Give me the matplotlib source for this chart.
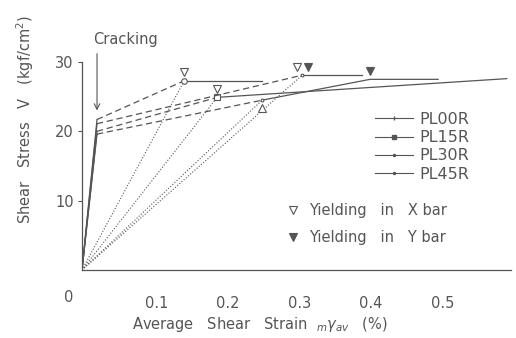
import matplotlib
matplotlib.use("Agg")
import matplotlib.pyplot as plt
from matplotlib.lines import Line2D
from matplotlib.transforms import offset_copy, ScaledTranslation

# specimens and key points
specimens = ["PL00R", "PL15R", "PL30R", "PL45R"]
crack_x = [0.021, 0.021, 0.021, 0.021]
crack_v = [21.7, 20.0, 19.6, 21.1]
yield_x = [0.143, 0.189, 0.252, 0.308]
yield_v = [27.3, 24.9, 24.5, 28.1]
# path after first yielding
post_x = [[0.143, 0.252], [0.189, 0.594], [0.252, 0.403, 0.498], [0.308, 0.392]]
post_v = [[27.3, 27.3], [24.9, 27.6], [24.5, 27.5, 27.5], [28.1, 28.1]]
# yielding in Y bar
ybar_x = [0.308, 0.403]
ybar_v = [28.1, 27.5]

x_ticks = [0.1, 0.2, 0.3, 0.4, 0.5]
x_ticklabels = ["0.1", "0.2", "0.3", "0.4", "0.5"]
y_ticks = [10, 20, 30]

col = "#555555"
markers = ["o", "s", ".", "."]

fig = plt.figure(figsize=(5.16, 3.38), dpi=100)
ax = fig.add_axes([82 / 516, 68 / 338, 429 / 516, 208 / 338])
ax.set_xlim(0, 0.6)
ax.set_ylim(0, 30)

for i, name in enumerate(specimens):
    # elastic part up to cracking
    ax.plot([0, crack_x[i]], [0, crack_v[i]], color=col, lw=0.9)
    # cracking -> yielding
    ax.plot([crack_x[i], yield_x[i]], [crack_v[i], yield_v[i]],
            color=col, lw=0.9, ls=(0, (5, 3)))
    # secant from origin
    ax.plot([0, yield_x[i]], [0, yield_v[i]], color=col, lw=0.8, ls=(0, (1, 1.6)))
    # after yielding
    ax.plot(post_x[i], post_v[i], color=col, lw=0.9)
    ax.plot(yield_x[i], yield_v[i], marker=markers[i], ms=4, mfc="white",
            mec=col, mew=0.8, ls="none")

# X bar yielding marks, shifted off the point
x_offsets = [(0, 6), (0, 6), (0, -6), (-4, 6)]
x_syms = ["v", "v", "^", "v"]
for i in range(len(yield_x)):
    dx, dy = x_offsets[i]
    tr = offset_copy(ax.transData, fig=fig, x=dx, y=dy, units="points")
    ax.plot(yield_x[i], yield_v[i], marker=x_syms[i], ms=6, mfc="white",
            mec=col, mew=0.8, transform=tr, ls="none", clip_on=False)

y_offsets = [(4, 6), (0, 6)]
for i in range(len(ybar_x)):
    dx, dy = y_offsets[i]
    tr = offset_copy(ax.transData, fig=fig, x=dx, y=dy, units="points")
    ax.plot(ybar_x[i], ybar_v[i], marker="v", ms=6, mfc=col, mec=col,
            mew=0.8, transform=tr, ls="none", clip_on=False)

# cracking arrow
ax.annotate("", xy=(crack_x[0], 22.6), xytext=(crack_x[0], 31.6),
            arrowprops=dict(arrowstyle="->", color=col, lw=0.8),
            annotation_clip=False)
ax.text(0.015, 33.2, "Cracking", color=col, fontsize=10.5, va="center",
        ha="left", clip_on=False)

for s in ["top", "right"]:
    ax.spines[s].set_visible(False)
for s in ["left", "bottom"]:
    ax.spines[s].set_color(col)
    ax.spines[s].set_linewidth(0.9)

ax.set_yticks(y_ticks)
ax.set_yticklabels([str(t) for t in y_ticks])
ax.set_xticks(x_ticks)
ax.set_xticklabels(x_ticklabels)
ax.tick_params(axis="y", length=3, width=0.8, color=col, labelcolor=col,
               labelsize=10.5, pad=3)
ax.tick_params(axis="x", length=0, labelcolor=col, labelsize=10.5, pad=19)
# labels in the original sit a bit right of the scale
shift = ScaledTranslation(3 / 100, 0, fig.dpi_scale_trans)
for lbl in ax.get_xticklabels():
    lbl.set_transform(lbl.get_transform() + shift)

fig.text(69 / 516, 1 - 298 / 338, "0", color=col, fontsize=10.5,
         ha="center", va="center")
fig.text(260 / 516, 1 - 324 / 338,
         r"Average   Shear   Strain  $_{m}\gamma_{av}$   (%)",
         color=col, fontsize=10.5, ha="center", va="center")
fig.text(25 / 516, 1 - 120 / 338, r"Shear   Stress   V   (kgf/cm$^2$)",
         color=col, fontsize=10.5, ha="center", va="center", rotation=90)

# specimen legend
handles = [Line2D([], [], color=col, lw=0.8, marker=m, ms=3, mfc=col, mec=col)
           for m in ["|", "s", ".", "."]]
leg1 = ax.legend(handles, specimens, loc="upper left",
                 bbox_to_anchor=(375 / 516, 1 - 112 / 338),
                 bbox_transform=fig.transFigure, frameon=False,
                 borderpad=0, borderaxespad=0, handlelength=2.4,
                 handletextpad=0.35, labelspacing=0.2, fontsize=11.5,
                 labelcolor=col)
ax.add_artist(leg1)

# yielding legend
yh = [Line2D([], [], ls="none", marker="v", ms=6, mfc="white", mec=col, mew=0.8),
      Line2D([], [], ls="none", marker="v", ms=6, mfc=col, mec=col, mew=0.8)]
ax.legend(yh, ["Yielding   in   X bar", "Yielding   in   Y bar"],
          loc="upper left", bbox_to_anchor=(286 / 516, 1 - 203 / 338),
          bbox_transform=fig.transFigure, frameon=False, borderpad=0,
          borderaxespad=0, handlelength=1.0, handletextpad=0.6,
          labelspacing=0.8, fontsize=10.5, labelcolor=col)

fig.savefig("out.png", dpi=100)
